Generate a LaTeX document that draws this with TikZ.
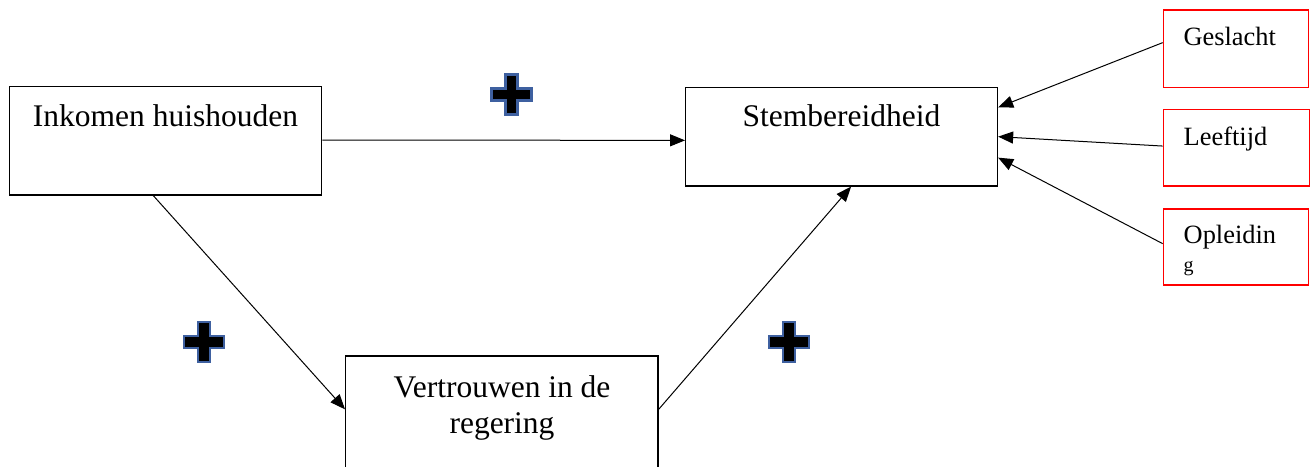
\documentclass[tikz,border=0pt]{standalone}
\usepackage{fontspec}
\setmainfont{Liberation Serif}
\usetikzlibrary{arrows.meta,calc}
\definecolor{plusblue}{RGB}{62,96,160}
\begin{document}
\begin{tikzpicture}[x=1pt,y=-1pt,
  box/.style={draw=black, line width=1.3pt, rectangle, inner sep=0pt},
  redbox/.style={draw=red, line width=1.3pt, rectangle, inner sep=0pt},
  lab/.style={font=\fontsize{31.5}{36}\selectfont, inner sep=0pt, anchor=base},
  smalllab/.style={font=\fontsize{26.4}{30}\selectfont, inner sep=0pt, anchor=base west},
  tinylab/.style={font=\fontsize{20}{24}\selectfont, inner sep=0pt, anchor=base west},
  arr/.style={-{Triangle[length=15pt,width=12pt]}, line width=1pt},
  plussign/.pic={\filldraw[fill=black, draw=plusblue, line width=2.5pt, line join=miter]
     (-6,-20) -- (6,-20) -- (6,-6) -- (20,-6) -- (20,6) -- (6,6) -- (6,20) -- (-6,20)
     -- (-6,6) -- (-20,6) -- (-20,-6) -- (-6,-6) -- cycle;}]
\useasboundingbox (0,0) rectangle (1316,466);
\clip (0,0) rectangle (1316,466);
\fill[white] (0,0) rectangle (1316,466);

% boxes
\node[box, minimum width=312.4pt, minimum height=108.3pt] (inkomen) at (165.5,140.85) {};
\node[box, minimum width=311.8pt, minimum height=98.7pt] (stem) at (841.6,136.65) {};
\node[box, minimum width=312.3pt, minimum height=144pt] (vert) at (501.85,428) {};
\node[redbox, minimum width=145.4pt, minimum height=77.3pt] (geslacht) at (1236,48.65) {};
\node[redbox, minimum width=146pt, minimum height=76.7pt] (leeftijd) at (1236.3,147.65) {};
\node[redbox, minimum width=145.4pt, minimum height=76pt] (opleiding) at (1236,247) {};

% texts
\node[lab] (inkomenT) at (165.5,126.7) {Inkomen huishouden};
\node[lab] (stemT) at (841.5,126.7) {Stembereidheid};
\node[lab] (vertT1) at (502,397) {Vertrouwen in de};
\node[lab] (vertT2) at (502,433) {regering};
\node[smalllab] (geslachtT) at (1183.3,45) {Geslacht};
\node[smalllab] (leeftijdT) at (1183.5,145) {Leeftijd};
\node[smalllab] (opleidingT1) at (1183.5,243.3) {Opleidin};
\node[tinylab] (opleidingT2) at (1183.5,271) {g};

% connectors
\draw[arr] ($(inkomen.north east)+(0,54)$) -- ($(stem.north west)+(0,53.7)$);
\draw[arr] ($(inkomen.south west)+(144.7,0)$) -- ($(vert.north west)+(0,54)$);
\draw[arr] ($(vert.north east)+(0,54)$) -- ($(stem.south west)+(166,0)$);
\draw[arr] ($(geslacht.north west)+(0,33.3)$) -- ($(stem.north east)+(0,20.7)$);
\draw[arr] ($(leeftijd.north west)+(0,37.4)$) -- ($(stem.north east)+(0,50)$);
\draw[arr] ($(opleiding.north west)+(0,35.3)$) -- ($(stem.north east)+(0,71)$);

% plus signs
\pic at (511.5,94.5) {plussign};
\pic at (204,342) {plussign};
\pic at (789,342) {plussign};
\end{tikzpicture}
\end{document}
